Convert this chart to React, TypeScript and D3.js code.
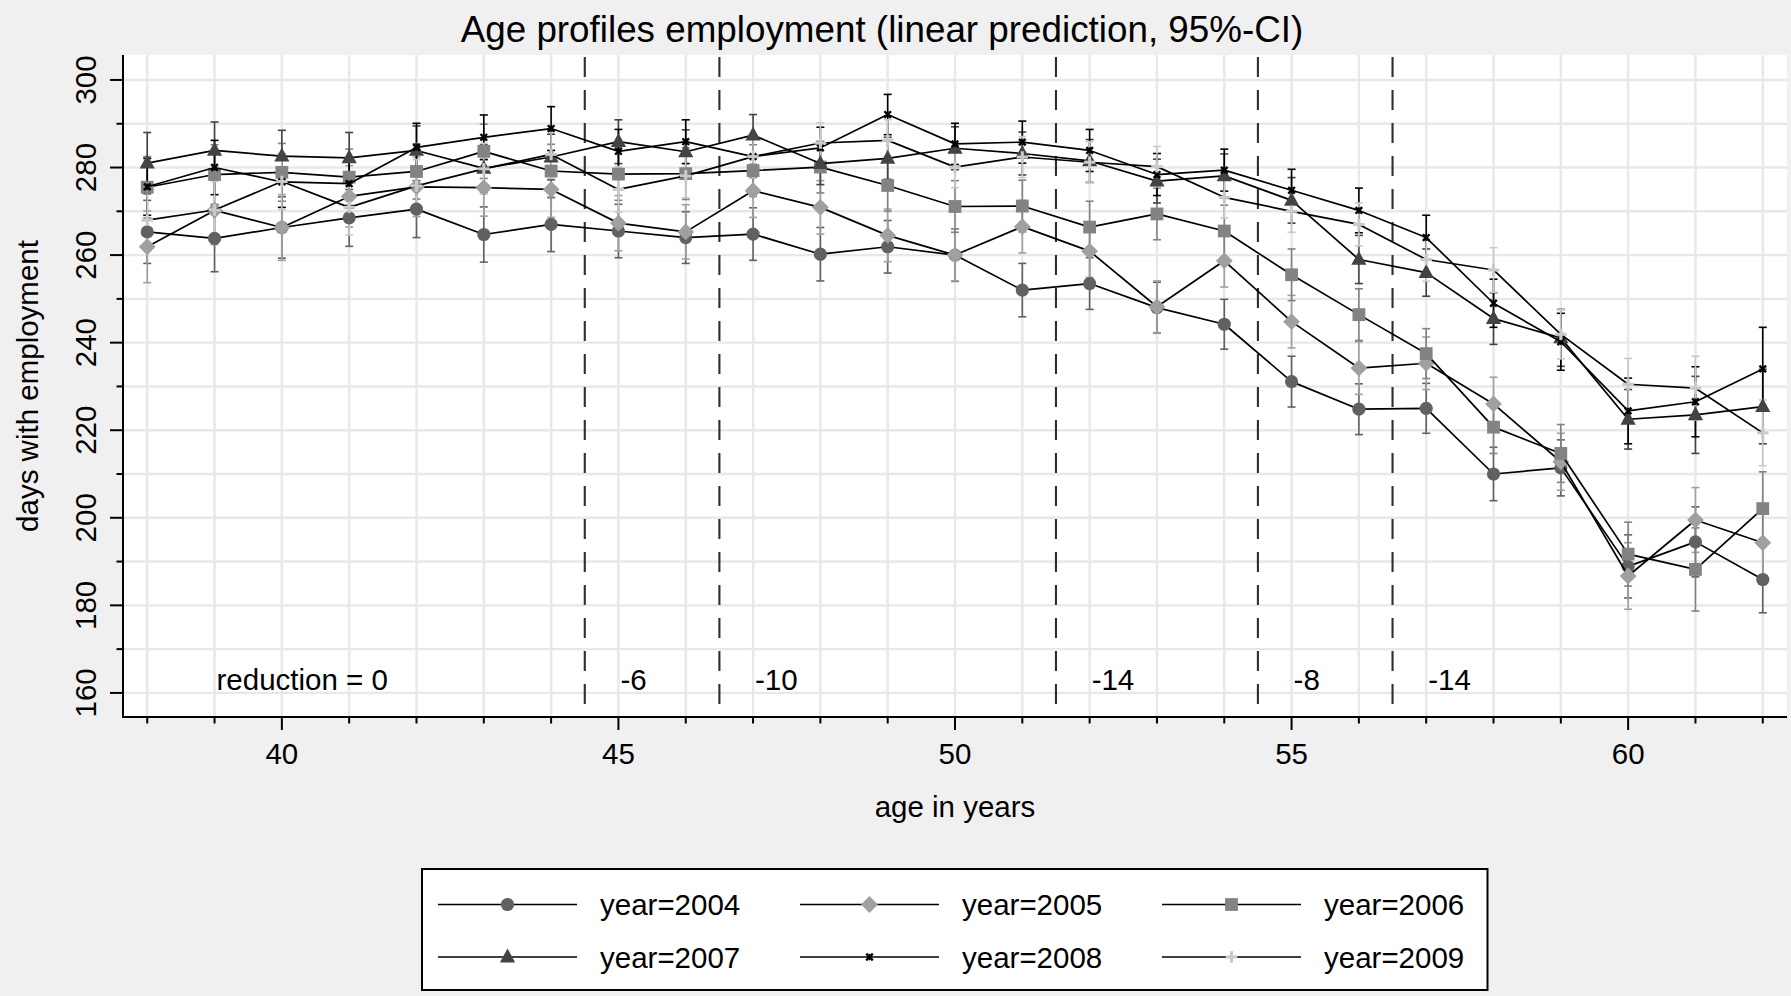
// Externals
import * as d3 from 'd3'
import { FC, useMemo } from 'react'



const WIDTH = 1791
const HEIGHT = 996
const PLOT = { left: 123, right: 1787, top: 55, bottom: 717 }
const X_DOMAIN = [37.64, 62.36]
const Y_DOMAIN = [154.5, 305.7]
const FONT = '"Liberation Sans", Arial, Helvetica, sans-serif'
const FONT_SIZE = 29.5

// Ages on the x axis
const AGES = [38, 39, 40, 41, 42, 43, 44, 45, 46, 47, 48, 49, 50, 51, 52, 53, 54, 55, 56, 57, 58, 59, 60, 61, 62]

// Linear predictions and half-width of the 95%-CI, one pair per year
const Y2004 = [265.3, 263.8, 266.3, 268.5, 270.5, 264.7, 267.0, 265.5, 264.0, 264.8, 260.2, 261.9, 260.0, 252.0, 253.5, 248.0, 244.2, 231.1, 224.8, 225.0, 210.0, 211.4, 188.9, 194.5, 185.9]
const CI2004 = [7.2, 7.6, 7.0, 6.5, 6.5, 6.3, 6.2, 6.1, 5.9, 6.0, 6.1, 6.0, 6.0, 6.1, 5.9, 5.8, 5.7, 5.8, 5.8, 5.7, 6.1, 6.4, 7.2, 8.0, 7.6]

const Y2005 = [261.9, 270.2, 266.3, 273.4, 275.6, 275.4, 275.0, 267.3, 265.3, 274.7, 270.9, 264.5, 260.0, 266.5, 260.9, 248.2, 258.7, 244.8, 234.2, 235.3, 226.0, 212.8, 186.7, 199.5, 194.3]
const CI2005 = [8.2, 7.8, 7.5, 7.0, 6.8, 6.5, 6.4, 6.3, 6.2, 6.1, 6.1, 6.0, 5.9, 6.0, 6.0, 5.9, 6.0, 6.0, 6.0, 6.0, 6.1, 6.5, 7.6, 7.4, 8.0]

const Y2006 = [275.5, 278.4, 278.9, 277.8, 279.1, 283.7, 279.2, 278.5, 278.6, 279.3, 280.1, 275.9, 271.1, 271.2, 266.4, 269.4, 265.5, 255.5, 246.4, 237.5, 220.7, 214.7, 191.7, 188.2, 202.1]
const CI2006 = [7.0, 6.8, 6.6, 6.4, 6.3, 6.2, 6.1, 6.0, 5.9, 5.9, 5.9, 5.9, 5.9, 5.9, 5.9, 5.9, 5.9, 5.9, 5.9, 5.7, 6.0, 6.6, 7.3, 9.5, 8.4]

const Y2007 = [281.0, 283.9, 282.6, 282.2, 283.9, 279.8, 282.4, 285.9, 283.6, 287.4, 280.9, 282.1, 284.4, 283.2, 281.5, 276.9, 278.1, 272.5, 259.0, 256.0, 245.5, 241.1, 222.5, 223.5, 225.4]
const CI2007 = [7.0, 6.5, 5.9, 5.8, 5.6, 5.4, 5.2, 5.0, 5.0, 4.7, 4.8, 4.8, 4.9, 4.9, 4.9, 5.0, 5.0, 5.2, 5.5, 5.4, 5.9, 6.5, 6.8, 8.8, 8.5]

const Y2008 = [275.6, 280.0, 276.7, 276.3, 284.6, 286.9, 288.9, 283.7, 285.9, 282.5, 284.5, 292.1, 285.4, 285.8, 283.9, 278.4, 279.4, 274.8, 270.2, 264.0, 249.0, 240.2, 224.4, 226.5, 234.0]
const CI2008 = [6.5, 6.2, 5.8, 5.6, 5.5, 5.1, 5.0, 5.0, 5.0, 4.8, 4.7, 4.6, 4.7, 4.8, 4.8, 4.8, 4.8, 4.8, 5.1, 5.1, 5.5, 6.5, 7.5, 8.0, 9.5]

const Y2009 = [268.0, 270.3, 276.8, 270.9, 275.8, 279.7, 283.0, 275.0, 278.1, 282.5, 285.6, 286.2, 280.1, 282.4, 281.2, 280.2, 273.2, 270.0, 267.0, 259.0, 256.6, 241.9, 230.5, 229.6, 219.4]
const CI2009 = [6.8, 6.5, 6.4, 6.3, 6.0, 5.8, 5.5, 5.2, 5.0, 4.9, 4.6, 4.7, 4.7, 4.7, 4.7, 4.6, 4.7, 4.8, 4.9, 5.0, 5.1, 5.6, 5.9, 7.3, 7.5]

const SERIES_NAMES = ['year=2004', 'year=2005', 'year=2006', 'year=2007', 'year=2008', 'year=2009']

// Reform cut-offs and the reduction labels
const CUTOFFS = [44.5, 46.5, 51.5, 54.5, 56.5]
const REDUCTION_AGES = [39, 45, 47, 52, 55, 57]
const REDUCTION_LABELS = ['reduction = 0', '-6', '-10', '-14', '-8', '-14']
const REDUCTION_Y = 163

const Y_TICKS = [160, 180, 200, 220, 240, 260, 280, 300]
const Y_MINOR = [170, 190, 210, 230, 250, 270, 290]
const Y_GRID = [160, 170, 180, 190, 200, 210, 220, 230, 240, 250, 260, 270, 280, 290, 300]
const X_TICKS = [40, 45, 50, 55, 60]



type Symbol = 'circle' | 'diamond' | 'square' | 'triangle' | 'x' | 'plus'

const STYLES: { color: string; symbol: Symbol }[] = [
  { color: '#616161', symbol: 'circle' },
  { color: '#a0a0a0', symbol: 'diamond' },
  { color: '#838383', symbol: 'square' },
  { color: '#434343', symbol: 'triangle' },
  { color: '#000000', symbol: 'x' },
  { color: '#c9c9c9', symbol: 'plus' },
]

const VALUES = [Y2004, Y2005, Y2006, Y2007, Y2008, Y2009]
const CIS = [CI2004, CI2005, CI2006, CI2007, CI2008, CI2009]



const Marker: FC<{ x: number; y: number; symbol: Symbol; color: string }> = ({ x, y, symbol, color }) => {
  const t = `translate(${x},${y})`
  if (symbol === 'circle') return <circle cx={ x } cy={ y } r={ 6.6 } fill={ color } />
  if (symbol === 'diamond') return <path transform={ t } d='M0,-8.4L8.4,0L0,8.4L-8.4,0Z' fill={ color } />
  if (symbol === 'square') return <rect x={ x - 6.4 } y={ y - 6.4 } width={ 12.8 } height={ 12.8 } fill={ color } />
  if (symbol === 'triangle') return <path transform={ t } d='M0,-8.6L7.6,5.4L-7.6,5.4Z' fill={ color } />
  if (symbol === 'x') {
    return (
      <g transform={ t } stroke={ color } strokeWidth={ 2.4 }>
        <line x1={ -3.3 } y1={ -3.3 } x2={ 3.3 } y2={ 3.3 } />
        <line x1={ -3.3 } y1={ 3.3 } x2={ 3.3 } y2={ -3.3 } />
        <line x1={ 0 } y1={ -3.3 } x2={ 0 } y2={ 3.3 } strokeWidth={ 1.4 } />
      </g>
    )
  }
  return (
    <g transform={ t } stroke={ color } strokeWidth={ 3 }>
      <line x1={ -5.8 } y1={ 0 } x2={ 5.8 } y2={ 0 } />
      <line x1={ 0 } y1={ -5.8 } x2={ 0 } y2={ 5.8 } />
    </g>
  )
}





const App: FC = () => {
  const xScale = useMemo(() => {
    return d3.scaleLinear().domain(X_DOMAIN).range([PLOT.left, PLOT.right])
  }, [])

  const yScale = useMemo(() => {
    return d3.scaleLinear().domain(Y_DOMAIN).range([PLOT.bottom, PLOT.top])
  }, [])

  const lineGenerator = d3
    .line<number>()
    .x((_, i) => xScale(AGES[i]))
    .y((d) => yScale(d))

  // Error bars go first, lines and markers on top
  const errorBars = VALUES.map((values, s) => (
    <g key={ s } stroke={ STYLES[s].color } strokeWidth={ 1.6 }>
      { values.map((v, i) => {
        const x = xScale(AGES[i])
        const y0 = yScale(v - CIS[s][i])
        const y1 = yScale(v + CIS[s][i])
        return (
          <g key={ i }>
            <line x1={ x } x2={ x } y1={ y0 } y2={ y1 } />
            <line x1={ x - 4 } x2={ x + 4 } y1={ y0 } y2={ y0 } />
            <line x1={ x - 4 } x2={ x + 4 } y1={ y1 } y2={ y1 } />
          </g>
        )
      }) }
    </g>
  ))

  const series = VALUES.map((values, s) => (
    <g key={ s }>
      <path
        d={ lineGenerator(values) as string }
        fill='none'
        stroke='black'
        strokeWidth={ 1.7 }
        strokeLinejoin='round'
      />
      { values.map((v, i) => (
        <Marker
          key={ i }
          x={ xScale(AGES[i]) }
          y={ yScale(v) }
          symbol={ STYLES[s].symbol }
          color={ STYLES[s].color }
        />
      )) }
    </g>
  ))

  const legend = SERIES_NAMES.map((name, i) => {
    const col = i % 3
    const row = Math.floor(i / 3)
    const x0 = 438 + col * 362
    const y = 904.5 + row * 52.5
    return (
      <g key={ name }>
        <line x1={ x0 } x2={ x0 + 139 } y1={ y } y2={ y } stroke='black' strokeWidth={ 1.7 } />
        <Marker x={ x0 + 69.5 } y={ y } symbol={ STYLES[i].symbol } color={ STYLES[i].color } />
        <text x={ x0 + 162 } y={ y } dominantBaseline='central' fontSize={ FONT_SIZE }>
          { name }
        </text>
      </g>
    )
  })



  return (
    <svg
      width={ WIDTH }
      height={ HEIGHT }
      style={ { position: 'absolute', left: 0, top: 0, display: 'block' } }
      fontFamily={ FONT }
    >
      <rect width={ WIDTH } height={ HEIGHT } fill='#f0f0f0' />
      <rect
        x={ PLOT.left }
        y={ PLOT.top }
        width={ PLOT.right - PLOT.left }
        height={ PLOT.bottom - PLOT.top }
        fill='white'
      />

      { /* Grid */ }
      <g stroke='#e8e8e8' strokeWidth={ 2.4 }>
        { Y_GRID.map((v) => (
          <line key={ v } x1={ PLOT.left } x2={ PLOT.right } y1={ yScale(v) } y2={ yScale(v) } />
        )) }
        { AGES.map((a) => (
          <line key={ a } x1={ xScale(a) } x2={ xScale(a) } y1={ PLOT.top } y2={ PLOT.bottom } />
        )) }
      </g>

      { /* Cut-off lines */ }
      <g stroke='#2e2e2e' strokeWidth={ 2.1 } strokeDasharray='20 13'>
        { CUTOFFS.map((c) => (
          <line key={ c } x1={ xScale(c) } x2={ xScale(c) } y1={ PLOT.top + 2 } y2={ PLOT.bottom } />
        )) }
      </g>

      { REDUCTION_LABELS.map((label, i) => (
        <text
          key={ i }
          x={ xScale(REDUCTION_AGES[i]) + 2 }
          y={ yScale(REDUCTION_Y) }
          dominantBaseline='central'
          fontSize={ FONT_SIZE }
        >
          { label }
        </text>
      )) }

      { errorBars }
      { series }

      { /* Axes */ }
      <g stroke='black' strokeWidth={ 2 }>
        <line x1={ PLOT.left } x2={ PLOT.left } y1={ PLOT.top } y2={ PLOT.bottom + 1 } />
        <line x1={ PLOT.left - 1 } x2={ PLOT.right } y1={ PLOT.bottom } y2={ PLOT.bottom } />
        { Y_TICKS.map((v) => (
          <line key={ v } x1={ PLOT.left - 13 } x2={ PLOT.left } y1={ yScale(v) } y2={ yScale(v) } />
        )) }
        { Y_MINOR.map((v) => (
          <line key={ v } x1={ PLOT.left - 6.5 } x2={ PLOT.left } y1={ yScale(v) } y2={ yScale(v) } />
        )) }
        { AGES.map((a) => (
          <line
            key={ a }
            x1={ xScale(a) }
            x2={ xScale(a) }
            y1={ PLOT.bottom }
            y2={ PLOT.bottom + (X_TICKS.includes(a) ? 13 : 6.5) }
          />
        )) }
      </g>

      { Y_TICKS.map((v) => (
        <text
          key={ v }
          transform={ `translate(96,${yScale(v)}) rotate(-90)` }
          textAnchor='middle'
          fontSize={ FONT_SIZE }
        >
          { v }
        </text>
      )) }
      { X_TICKS.map((a) => (
        <text key={ a } x={ xScale(a) } y={ 764 } textAnchor='middle' fontSize={ FONT_SIZE }>
          { a }
        </text>
      )) }

      <text
        transform={ `translate(38,${(PLOT.top + PLOT.bottom) / 2}) rotate(-90)` }
        textAnchor='middle'
        fontSize={ FONT_SIZE }
      >
        days with employment
      </text>
      <text x={ (PLOT.left + PLOT.right) / 2 } y={ 817 } textAnchor='middle' fontSize={ FONT_SIZE }>
        age in years
      </text>
      <text x={ 882 } y={ 42 } textAnchor='middle' fontSize={ 36.8 }>
        Age profiles employment (linear prediction, 95%-CI)
      </text>

      { /* Legend */ }
      <rect x={ 422 } y={ 869 } width={ 1065.5 } height={ 121 } fill='white' stroke='black' strokeWidth={ 2 } />
      { legend }
    </svg>
  )
}


export default App
